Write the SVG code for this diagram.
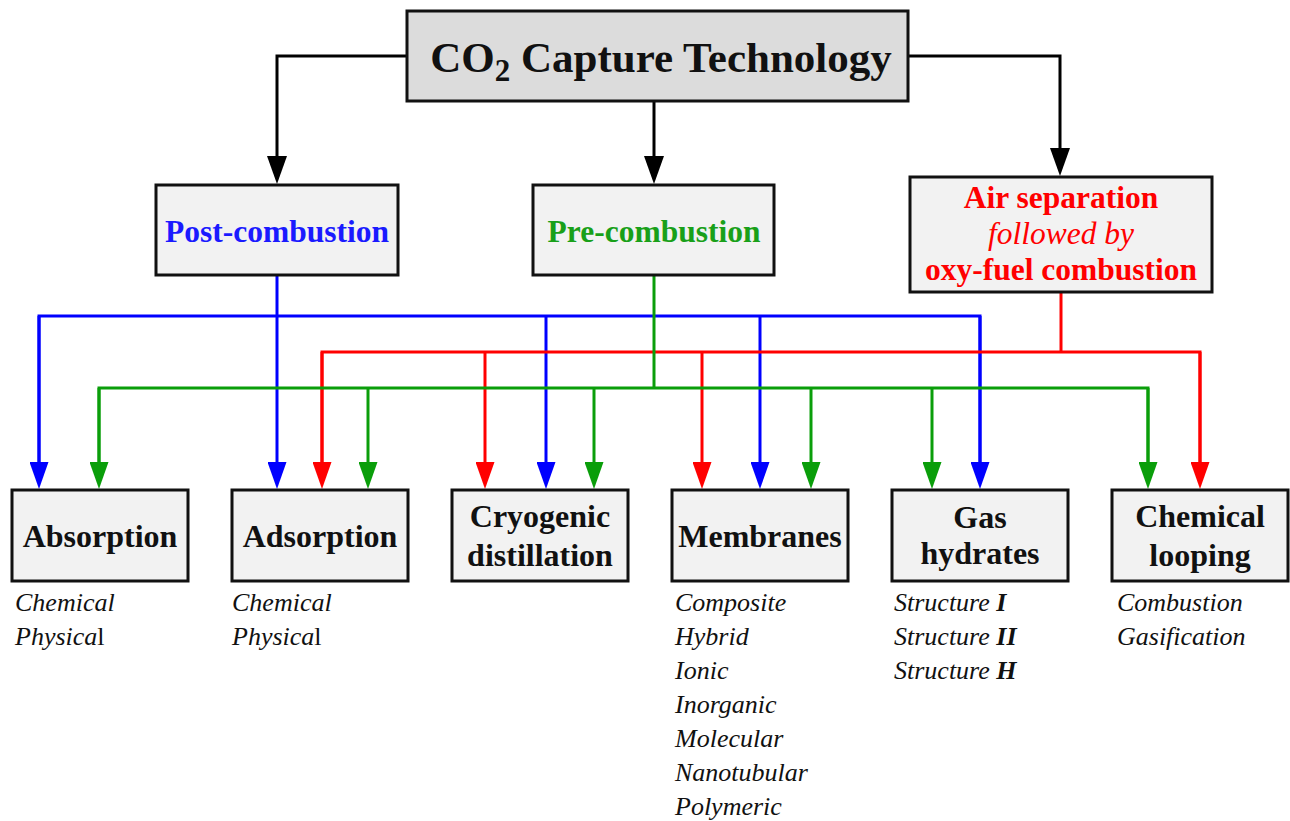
<svg xmlns="http://www.w3.org/2000/svg" width="1290" height="821" viewBox="0 0 1290 821">
<style>
.box{fill:#f2f2f2;stroke:#111;stroke-width:3}
.title{fill:#dcdcdc;stroke:#111;stroke-width:3}
text{font-family:'Liberation Serif','Times New Roman',Tinos,Times,serif}
.t{font-weight:bold;text-anchor:middle;fill:#111}
.big{font-size:32px}
.mid{font-size:31.5px}
.it{font-style:italic;font-size:26px;fill:#111}
.k{fill:none;stroke:#000;stroke-width:3}
.b{fill:none;stroke:#0000ff;stroke-width:3}
.r{fill:none;stroke:#ff0000;stroke-width:3}
.g{fill:none;stroke:#0a9e0a;stroke-width:3}
</style>
<defs>
<marker id="ak" markerUnits="userSpaceOnUse" viewBox="0 0 28 20" markerWidth="28" markerHeight="20" refX="18" refY="10" orient="auto"><path d="M0,0 L28,10 L0,20 z" fill="#000"/></marker>
<marker id="ab" markerUnits="userSpaceOnUse" viewBox="0 0 27 19" markerWidth="27" markerHeight="19" refX="17" refY="9.5" orient="auto"><path d="M0,0 L27,9.5 L0,19 z" fill="#0000ff"/></marker>
<marker id="ar" markerUnits="userSpaceOnUse" viewBox="0 0 27 19" markerWidth="27" markerHeight="19" refX="17" refY="9.5" orient="auto"><path d="M0,0 L27,9.5 L0,19 z" fill="#ff0000"/></marker>
<marker id="ag" markerUnits="userSpaceOnUse" viewBox="0 0 27 19" markerWidth="27" markerHeight="19" refX="17" refY="9.5" orient="auto"><path d="M0,0 L27,9.5 L0,19 z" fill="#0a9e0a"/></marker>
</defs>
<rect width="1290" height="821" fill="#fff"/>
<g id="connectors">
<path class="k" d="M407,56 H277 V174" marker-end="url(#ak)"/>
<path class="k" d="M654,101 V174" marker-end="url(#ak)"/>
<path class="k" d="M908,56 H1060 V166" marker-end="url(#ak)"/>
<path class="b" d="M277,275 V479" marker-end="url(#ab)"/>
<path class="b" d="M39,479 V316 H980 V479"/>
<path class="b" d="M39,316 V479" marker-end="url(#ab)"/>
<path class="b" d="M980,316 V479" marker-end="url(#ab)"/>
<path class="b" d="M546,316 V479" marker-end="url(#ab)"/>
<path class="b" d="M760,316 V479" marker-end="url(#ab)"/>
<path class="r" d="M1061,292 V352"/>
<path class="r" d="M322,479 V352 H1200 V479"/>
<path class="r" d="M322,352 V479" marker-end="url(#ar)"/>
<path class="r" d="M1200,352 V479" marker-end="url(#ar)"/>
<path class="r" d="M485,352 V479" marker-end="url(#ar)"/>
<path class="r" d="M702,352 V479" marker-end="url(#ar)"/>
<path class="g" d="M654,275 V388"/>
<path class="g" d="M99,479 V388 H1148 V479"/>
<path class="g" d="M99,388 V479" marker-end="url(#ag)"/>
<path class="g" d="M1148,388 V479" marker-end="url(#ag)"/>
<path class="g" d="M368,388 V479" marker-end="url(#ag)"/>
<path class="g" d="M594,388 V479" marker-end="url(#ag)"/>
<path class="g" d="M811,388 V479" marker-end="url(#ag)"/>
<path class="g" d="M932,388 V479" marker-end="url(#ag)"/>
</g>
<g id="title">
<rect class="title" x="407" y="11" width="501" height="90"/>
<text class="t" x="661" y="72" font-size="43">CO<tspan font-size="31" dy="9">2</tspan><tspan dy="-9"> Capture Technology</tspan></text>
</g>
<g id="post">
<rect class="box" x="156" y="185" width="242" height="90"/>
<text class="t mid" x="277" y="241.5" style="fill:#1a1aff">Post-combustion</text>
</g>
<g id="pre">
<rect class="box" x="533" y="185" width="241" height="90"/>
<text class="t mid" x="654" y="241.5" style="fill:#19a019">Pre-combustion</text>
</g>
<g id="air">
<rect class="box" x="910" y="177" width="302" height="115"/>
<text class="t mid" x="1061" y="208" style="fill:#ff0000">Air separation</text>
<text class="t mid" x="1061" y="244" style="fill:#ff0000;font-weight:normal;font-style:italic">followed by</text>
<text class="t mid" x="1061" y="280" style="fill:#ff0000">oxy-fuel combustion</text>
</g>
<g id="absorption">
<rect class="box" x="12" y="490" width="176" height="91"/>
<text class="t big" x="100" y="547">Absorption</text>
<text class="it" x="15" y="611">Chemical</text>
<text class="it" x="15" y="645">Physica<tspan font-style="normal">l</tspan></text>
</g>
<g id="adsorption">
<rect class="box" x="232" y="490" width="176" height="91"/>
<text class="t big" x="320" y="547">Adsorption</text>
<text class="it" x="232" y="611">Chemical</text>
<text class="it" x="232" y="645">Physica<tspan font-style="normal">l</tspan></text>
</g>
<g id="cryogenic">
<rect class="box" x="452" y="490" width="176" height="91"/>
<text class="t big" x="540" y="527">Cryogenic</text>
<text class="t big" x="540" y="566">distillation</text>
</g>
<g id="membranes">
<rect class="box" x="672" y="490" width="176" height="91"/>
<text class="t big" x="760" y="547">Membranes</text>
<text class="it" x="675" y="611">Composite</text>
<text class="it" x="675" y="645">Hybrid</text>
<text class="it" x="675" y="679">Ionic</text>
<text class="it" x="675" y="713">Inorganic</text>
<text class="it" x="675" y="747">Molecular</text>
<text class="it" x="675" y="781">Nanotubular</text>
<text class="it" x="675" y="815">Polymeric</text>
</g>
<g id="gashydrates">
<rect class="box" x="892" y="490" width="176" height="91"/>
<text class="t big" x="980" y="528">Gas</text>
<text class="t big" x="980" y="564">hydrates</text>
<text class="it" x="894" y="611">Structure <tspan font-weight="bold">I</tspan></text>
<text class="it" x="894" y="645">Structure <tspan font-weight="bold">II</tspan></text>
<text class="it" x="894" y="679">Structure <tspan font-weight="bold">H</tspan></text>
</g>
<g id="chemlooping">
<rect class="box" x="1112" y="490" width="176" height="91"/>
<text class="t big" x="1200" y="527">Chemical</text>
<text class="t big" x="1200" y="566">looping</text>
<text class="it" x="1117" y="611">Combustion</text>
<text class="it" x="1117" y="645">Gasification</text>
</g>
</svg>
